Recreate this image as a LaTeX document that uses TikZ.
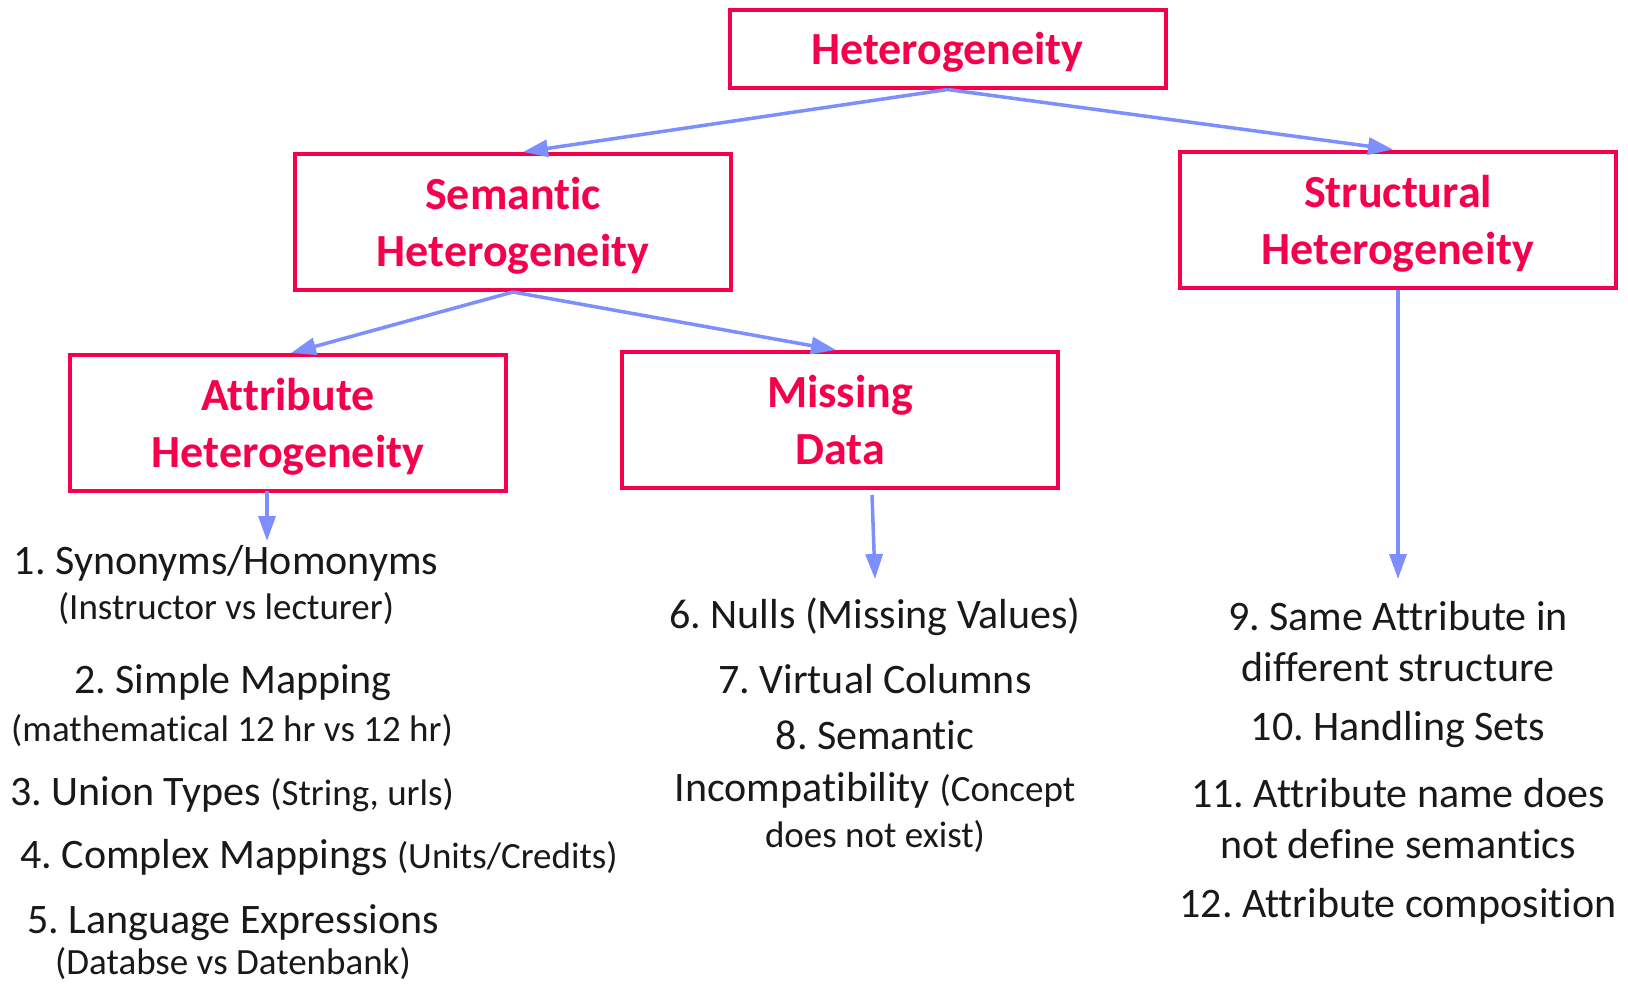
\documentclass[tikz,border=0pt]{standalone}
\usepackage{fontspec}
\setmainfont{Carlito}[Ligatures=NoCommon]
\usetikzlibrary{arrows.meta}
\definecolor{boxred}{RGB}{245,0,75}
\definecolor{linkblue}{RGB}{125,142,255}
\newcommand{\bigtxt}{\fontsize{42}{50}\selectfont}
\newcommand{\smalltxt}{\fontsize{37}{44}\selectfont}
\frenchspacing
\tikzset{
  catbox/.style={draw=boxred, line width=4pt, text=boxred, align=center,
    minimum width=436pt, minimum height=136pt, inner sep=0pt, text depth=0pt,
    font=\fontsize{46}{57}\selectfont\bfseries},
  link/.style={draw=linkblue, line width=3.5pt,
    -{Triangle[length=25pt,width=17pt]}},
  itemtxt/.style={anchor=base, inner sep=0pt, text=black!90, font=\bigtxt},
}
\begin{document}
\begin{tikzpicture}[x=1pt,y=-1pt]
\useasboundingbox (0,0) rectangle (1628,985);

% category boxes
\node[catbox, minimum width=436pt, minimum height=78pt] (het) at (947.5,48.5) {Heterogeneity};
\node[catbox] (sem) at (513,222) {Semantic\\Heterogeneity};
\node[catbox] (str) at (1398,219.5) {Structural\\Heterogeneity};
\node[catbox] (att) at (288,423) {Attribute\\Heterogeneity};
\node[catbox] (mis) at (840,420) {Missing\\Data};

% attribute heterogeneity items
\node[itemtxt] (i1)  at (226,574) {1. Synonyms/Homonyms};
\node[itemtxt, font=\smalltxt] (i1b) at (226,619) {(Instructor vs lecturer)};
\node[itemtxt] (i2)  at (233,693) {2. Simple Mapping};
\node[itemtxt, font=\smalltxt] (i2b) at (232,741) {(mathematical 12 hr vs 12 hr)};
\node[itemtxt] (i3)  at (232,805) {3. Union Types {\smalltxt(String, urls)}};
\node[itemtxt] (i4)  at (319,868) {4. Complex Mappings {\smalltxt(Units/Credits)}};
\node[itemtxt] (i5)  at (233,933) {5. Language Expressions};
\node[itemtxt, font=\smalltxt] (i5b) at (233,974) {(Databse vs Datenbank)};

% missing data items
\node[itemtxt] (i6)  at (875,628) {6. Nulls (Missing Values)};
\node[itemtxt] (i7)  at (875,693) {7. Virtual Columns};
\node[itemtxt] (i8)  at (875,749) {8. Semantic};
\node[itemtxt] (i8b) at (875,801) {Incompatibility {\smalltxt(Concept}};
\node[itemtxt, font=\smalltxt] (i8c) at (875,847) {does not exist)};

% structural heterogeneity items
\node[itemtxt] (i9)   at (1398,630) {9. Same Attribute in};
\node[itemtxt] (i9b)  at (1398,681) {different structure};
\node[itemtxt] (i10)  at (1398,740) {10. Handling Sets};
\node[itemtxt] (i11)  at (1398,807) {11. Attribute name does};
\node[itemtxt] (i11b) at (1398,858) {not define semantics};
\node[itemtxt] (i12)  at (1398,917) {12. Attribute composition};

% free ends of the list arrows
\coordinate (attS) at (267,491);
\coordinate (attT) at (267,541);
\coordinate (misS) at (872,495);
\coordinate (misT) at (875,579);
\coordinate (strT) at (1398,579);

% connectors
\draw[link] (het.south) -- ([xshift=10pt]sem.north);
\draw[link] (het.south) -- ([xshift=-5pt]str.north);
\draw[link] (sem.south) -- ([xshift=3pt]att.north);
\draw[link] (sem.south) -- ([xshift=-4pt]mis.north);
\draw[link] (attS) -- (attT);
\draw[link] (misS) -- (misT);
\draw[link] (str.south) -- (strT);
\end{tikzpicture}
\end{document}
